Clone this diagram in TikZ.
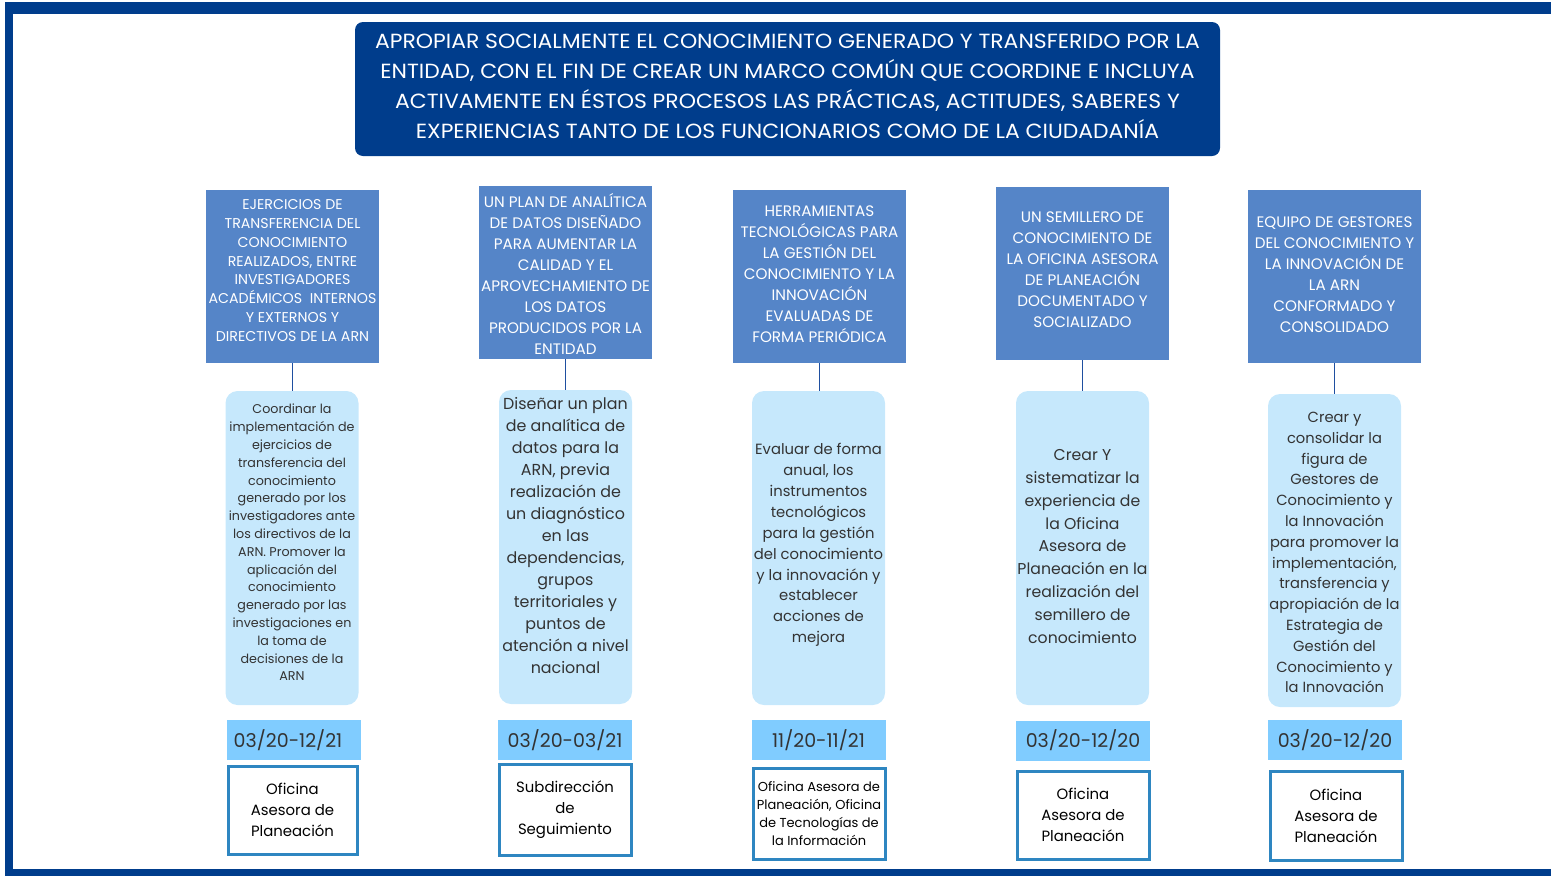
\documentclass[tikz,border=0pt]{standalone}
\usepackage{fontspec}
\setmainfont{Poppins}
\newfontfamily\hdr{Poppins}[FakeStretch=1.07]
\newfontfamily\dig{Poppins}
\definecolor{navy}{HTML}{003D8C}
\definecolor{midblue}{HTML}{5585C8}
\definecolor{paleblue}{HTML}{C6E8FC}
\definecolor{skyblue}{HTML}{80CCFF}
\definecolor{rimblue}{HTML}{2E86C1}
\definecolor{linkblue}{HTML}{1F4FA0}
\definecolor{ink}{HTML}{333333}
\begin{document}
\begin{tikzpicture}[x=1pt,y=-1pt,
  titlebox/.style={fill=navy, rounded corners=8pt,
    minimum width=865pt, minimum height=134pt, inner sep=0pt},
  titletext/.style={text=white, align=center, inner sep=0pt,
    font=\hdr\fontsize{20.5}{30}\selectfont},
  goalbox/.style={fill=midblue, minimum width=173pt, minimum height=173pt, inner sep=0pt},
  goaltext/.style={text=white, align=center, inner sep=0pt,
    font=\fontsize{15.2}{21}\selectfont},
  actbox/.style={fill=paleblue, rounded corners=12pt,
    minimum width=133pt, minimum height=314pt, inner sep=0pt},
  acttext/.style={text=ink, align=center, inner sep=0pt},
  datebox/.style={fill=skyblue, text=ink, minimum width=134pt, minimum height=40pt,
    inner sep=0pt, font=\dig\fontsize{19}{22}\selectfont},
  ownerbox/.style={draw=rimblue, line width=3pt, fill=white, text=black, align=center,
    minimum width=129pt, minimum height=88pt, inner sep=0pt,
    font=\fontsize{14.9}{21}\selectfont},
  link/.style={draw=linkblue, line width=1.3pt}
]
\useasboundingbox (0,0) rectangle (1551,876);
% frame
\fill[navy] (4.7,2) rectangle (1551,14);
\fill[navy] (4.7,2) rectangle (13,876);
\fill[navy] (4.7,869) rectangle (1551,876);

\node[titlebox] (title) at (787.5,89) {};
\node[titletext] (titlet) at (787.5,86.5) {APROPIAR SOCIALMENTE EL CONOCIMIENTO GENERADO Y TRANSFERIDO POR LA\\ENTIDAD, CON EL FIN DE CREAR UN MARCO COMÚN QUE COORDINE E INCLUYA\\ACTIVAMENTE EN ÉSTOS PROCESOS LAS PRÁCTICAS, ACTITUDES, SABERES Y\\EXPERIENCIAS TANTO DE LOS FUNCIONARIOS COMO DE LA CIUDADANÍA};

% goal boxes
\node[goalbox] (g1) at (292.5,276.5) {};
\node[goaltext, font=\fontsize{14.2}{18.8}\selectfont] (g1t) at (292.5,270.5) {EJERCICIOS DE\\TRANSFERENCIA DEL\\CONOCIMIENTO\\REALIZADOS, ENTRE\\INVESTIGADORES\\ACADÉMICOS\ \ INTERNOS\\Y EXTERNOS Y\\DIRECTIVOS DE LA ARN};
\node[goalbox] (g2) at (565.5,272.5) {};
\node[goaltext] (g2t) at (565.5,273.5) {UN PLAN DE ANALÍTICA\\DE DATOS DISEÑADO\\PARA AUMENTAR LA\\CALIDAD Y EL\\APROVECHAMIENTO DE\\LOS DATOS\\PRODUCIDOS POR LA\\ENTIDAD};
\node[goalbox] (g3) at (819.5,276.5) {};
\node[goaltext] (g3t) at (819.5,274) {HERRAMIENTAS\\TECNOLÓGICAS PARA\\LA GESTIÓN DEL\\CONOCIMIENTO Y LA\\INNOVACIÓN\\EVALUADAS DE\\FORMA PERIÓDICA};
\node[goalbox] (g4) at (1082.5,273.5) {};
\node[goaltext] (g4t) at (1082.5,269.5) {UN SEMILLERO DE\\CONOCIMIENTO DE\\LA OFICINA ASESORA\\DE PLANEACIÓN\\DOCUMENTADO Y\\SOCIALIZADO};
\node[goalbox] (g5) at (1334.5,276.5) {};
\node[goaltext] (g5t) at (1334.5,274.5) {EQUIPO DE GESTORES\\DEL CONOCIMIENTO Y\\LA INNOVACIÓN DE\\LA ARN\\CONFORMADO Y\\CONSOLIDADO};

% activity boxes
\node[actbox] (a1) at (292,548) {};
\node[acttext, font=\fontsize{12.7}{17.8}\selectfont] (a1t) at (292,542.5) {Coordinar la\\implementación de\\ejercicios de\\transferencia del\\conocimiento\\generado por los\\investigadores ante\\los directivos de la\\ARN. Promover la\\aplicación del\\conocimiento\\generado por las\\investigaciones en\\la toma de\\decisiones de la\\ARN};
\node[actbox] (a2) at (565.5,547) {};
\node[acttext, font=\fontsize{15.9}{22}\selectfont] (a2t) at (565.5,536) {Diseñar un plan\\de analítica de\\datos para la\\ARN, previa\\realización de\\un diagnóstico\\en las\\dependencias,\\grupos\\territoriales y\\puntos de\\atención a nivel\\nacional};
\node[actbox] (a3) at (818.5,548) {};
\node[acttext, font=\fontsize{14.8}{20.9}\selectfont] (a3t) at (818.5,545) {Evaluar de forma\\anual, los\\instrumentos\\tecnológicos\\para la gestión\\del conocimiento\\y la innovación y\\establecer\\acciones de\\mejora};
\node[actbox] (a4) at (1082.5,548) {};
\node[acttext, font=\fontsize{15.7}{22.8}\selectfont] (a4t) at (1082.5,546.5) {Crear Y\\sistematizar la\\experiencia de\\la Oficina\\Asesora de\\Planeación en la\\realización del\\semillero de\\conocimiento};
\node[actbox, minimum height=313pt] (a5) at (1334.5,550.5) {};
\node[acttext, font=\fontsize{14.7}{20.8}\selectfont] (a5t) at (1334.5,552.5) {Crear y\\consolidar la\\figura de\\Gestores de\\Conocimiento y\\la Innovación\\para promover la\\implementación,\\transferencia y\\apropiación de la\\Estrategia de\\Gestión del\\Conocimiento y\\la Innovación};

% connectors
\foreach \i in {1,...,5} {
  \draw[link] (g\i.south) -- (g\i.south |- a\i.north);
}

% dates
\node[datebox] (d1) at (294,740) {\hspace*{-12pt}03/20-12/21};
\node[datebox] (d2) at (565,740) {03/20-03/21};
\node[datebox] (d3) at (818.5,740) {11/20-11/21};
\node[datebox] (d4) at (1083,740.5) {03/20-12/20};
\node[datebox] (d5) at (1335,740) {03/20-12/20};

% owners
\node[ownerbox] (o1) at (292.5,810) {Oficina\\Asesora de\\Planeación};
\node[ownerbox, minimum width=132pt, minimum height=91pt] (o2) at (565,809.5) {Subdirección\\de\\Seguimiento};
\node[ownerbox, minimum width=132pt, minimum height=91pt, font=\fontsize{13}{18}\selectfont] (o3) at (819,813.5) {Oficina Asesora de\\Planeación, Oficina\\de Tecnologías de\\la Información};
\node[ownerbox, minimum width=132pt, minimum height=88pt] (o4) at (1083,815) {Oficina\\Asesora de\\Planeación};
\node[ownerbox, minimum width=132pt, minimum height=89pt] (o5) at (1336,815.5) {Oficina\\Asesora de\\Planeación};
\end{tikzpicture}
\end{document}
